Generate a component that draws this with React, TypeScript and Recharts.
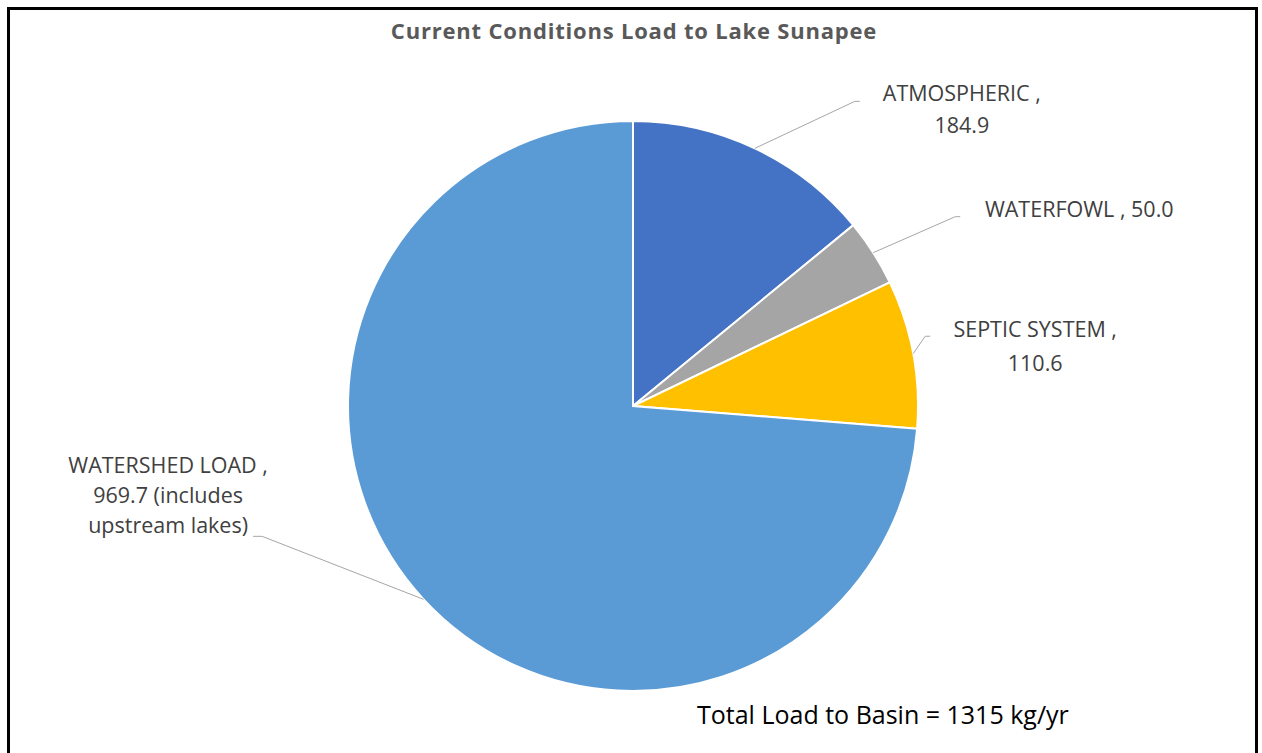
import { PieChart, Pie, Cell } from 'recharts';

const categories = ['ATMOSPHERIC', 'WATERFOWL', 'SEPTIC SYSTEM', 'WATERSHED LOAD'];
const loads = [184.9, 50.0, 110.6, 969.7];
const notes = ['', '', '', '(includes upstream lakes)'];
const colors = ['#4472C4', '#A5A5A5', '#FFC000', '#5B9BD5'];
const totalLoad = 1315;

const data = categories.map((name, i) => ({ name, value: loads[i], note: notes[i] }));

// per-slice label placement: elbow offset from slice edge, tail length,
// text centre offset from tail end, line gap, wrap width
const labelLayout = [
  { dx: 100, dy: -47, tail: 5, tx: 102, ty: -8, gap: 32, wrap: 13 },
  { dx: 82, dy: -36, tail: 5, tx: 119, ty: -7, gap: 32, wrap: 20 },
  { dx: 12, dy: -17.5, tail: 5, tx: 105, ty: -7, gap: 34, wrap: 15 },
  { dx: -161.5, dy: -63, tail: -9, tx: -85, ty: -71, gap: 30, wrap: 16 },
];

const LABEL_FS = 21.5;
const RAD = Math.PI / 180;

const wrapWords = (text: string, max: number) => {
  const out: string[] = [];
  let cur = '';
  text.split(' ').forEach((w) => {
    const next = cur ? cur + ' ' + w : w;
    if (next.length > max && cur) {
      out.push(cur);
      cur = w;
    } else cur = next;
  });
  if (cur) out.push(cur);
  return out;
};

const renderLabel = (props: any) => {
  const { cx, cy, midAngle, outerRadius, index } = props;
  const d = data[index];
  const lay = labelLayout[index];
  const sx = cx + Math.cos(-midAngle * RAD) * outerRadius;
  const sy = cy + Math.sin(-midAngle * RAD) * outerRadius;
  const ex = sx + lay.dx;
  const ey = sy + lay.dy;
  const tx = ex + lay.tail;
  const full = `${d.name} , ${d.value.toFixed(1)}${d.note ? ' ' + d.note : ''}`;
  const lines = wrapWords(full, lay.wrap);
  const base = ey + lay.ty + 0.357 * LABEL_FS;
  return (
    <g key={`lbl-${index}`}>
      <polyline points={`${sx},${sy} ${ex},${ey} ${tx},${ey}`} fill="none" stroke="#A6A6A6" strokeWidth={1} />
      <text x={tx + lay.tx} y={base} textAnchor="middle" fill="#404040" fontSize={LABEL_FS} fontFamily="Open Sans">
        {lines.map((l, i) => (
          <tspan key={i} x={tx + lay.tx} y={base + i * lay.gap}>
            {l}
          </tspan>
        ))}
      </text>
    </g>
  );
};

export default function App() {
  return (
    <div style={{ position: 'absolute', left: 0, top: 0, width: 1262, height: 753, overflow: 'hidden', background: '#fff' }}>
      <div
        style={{
          position: 'absolute',
          left: 7,
          top: 7,
          width: 1245,
          height: 800,
          border: '3px solid #000',
        }}
      />
      <div
        style={{
          position: 'absolute',
          left: 0,
          top: 15,
          width: 1268,
          textAlign: 'center',
          fontFamily: 'Open Sans',
          fontWeight: 'bold',
          fontSize: 22,
          letterSpacing: 0.8,
          lineHeight: 'normal',
          color: '#595959',
        }}
      >
        Current Conditions Load to Lake Sunapee
      </div>
      <div style={{ position: 'absolute', left: 0, top: 0 }}>
        <PieChart width={1262} height={753} margin={{ top: 0, right: 0, bottom: 0, left: 0 }}>
          <Pie
            data={data}
            dataKey="value"
            nameKey="name"
            cx={633}
            cy={406}
            outerRadius={285}
            startAngle={90}
            endAngle={-270}
            stroke="#fff"
            strokeWidth={2}
            label={renderLabel}
            labelLine={false}
            isAnimationActive={false}
          >
            {data.map((d, i) => (
              <Cell key={d.name} fill={colors[i]} />
            ))}
          </Pie>
        </PieChart>
      </div>
      <div
        style={{
          position: 'absolute',
          left: 697,
          top: 697,
          fontFamily: 'Open Sans',
          fontSize: 25,
          lineHeight: 'normal',
          color: '#000',
          whiteSpace: 'nowrap',
        }}
      >
        {`Total Load to Basin = ${totalLoad} kg/yr`}
      </div>
    </div>
  );
}
